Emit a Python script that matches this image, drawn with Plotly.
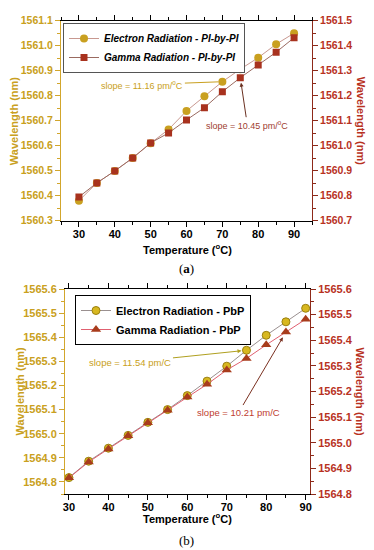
import plotly.graph_objects as go

# ---------------- data ----------------
temperature = [30, 35, 40, 45, 50, 55, 60, 65, 70, 75, 80, 85, 90]

a_electron = [1560.380, 1560.451, 1560.499, 1560.551, 1560.610, 1560.665, 1560.739,
              1560.798, 1560.856, 1560.906, 1560.952, 1561.006, 1561.050]
a_gamma = [1560.795, 1560.851, 1560.899, 1560.951, 1561.011, 1561.051, 1561.103,
           1561.152, 1561.216, 1561.272, 1561.323, 1561.374, 1561.432]

b_electron = [1564.818, 1564.886, 1564.940, 1564.993, 1565.047, 1565.100, 1565.158,
              1565.218, 1565.280, 1565.346, 1565.408, 1565.464, 1565.520]
b_gamma = [1564.863, 1564.925, 1564.976, 1565.027, 1565.078, 1565.127, 1565.179,
           1565.228, 1565.284, 1565.329, 1565.382, 1565.432, 1565.482]

a_names = ["Electron Radiation - PI-by-PI", "Gamma Radiation - PI-by-PI"]
b_names = ["Electron Radiation - PbP", "Gamma Radiation - PbP"]
slope_labels = ["slope = 11.16 pm/<sup>o</sup>C", "slope = 10.45 pm/<sup>o</sup>C",
                "slope = 11.54 pm/C", "slope = 10.21 pm/C"]

# ---------------- style ----------------
W, H = 374, 550
FONT = "Liberation Sans, Arial, sans-serif"
GOLD = "#C9A020"
GOLD_AX = "#D2A62C"
RED = "#A8321E"
RED_AX = "#8E2A1A"
RED_TXT = "#B8321F"

def px_x(p):
    return p / W

def px_y(p):
    return 1 - p / H

fig = go.Figure()

# panel (a)
fig.add_trace(go.Scatter(
    x=temperature, y=a_electron, name=a_names[0], mode="lines+markers",
    line=dict(color="#C89890", width=1),
    marker=dict(symbol="circle", size=8, color=GOLD),
    xaxis="x", yaxis="y", legend="legend"))
fig.add_trace(go.Scatter(
    x=temperature, y=a_gamma, name=a_names[1], mode="lines+markers",
    line=dict(color="#9A6A60", width=1),
    marker=dict(symbol="square", size=7, color=RED),
    xaxis="x", yaxis="y2", legend="legend"))

# panel (b)
fig.add_trace(go.Scatter(
    x=temperature, y=b_electron, name=b_names[0], mode="lines+markers",
    line=dict(color="#9A9090", width=1),
    marker=dict(symbol="circle", size=8, color="#D8B820",
                line=dict(color="#9A8010", width=1)),
    xaxis="x2", yaxis="y3", legend="legend2"))
fig.add_trace(go.Scatter(
    x=temperature, y=b_gamma, name=b_names[1], mode="lines+markers",
    line=dict(color="#E06070", width=1),
    marker=dict(symbol="triangle-up", size=9, color="#A83C1C"),
    xaxis="x2", yaxis="y4", legend="legend2"))

tickfont_x = dict(family=FONT, size=11, color="black", weight="bold")

def xaxis(domain, rng, anchor):
    return dict(domain=domain, range=rng, anchor=anchor, tickmode="linear", tick0=30, dtick=10,
                ticks="outside", ticklen=5, tickcolor="black", showline=True,
                linecolor="black", linewidth=1, mirror="ticks", showgrid=False, zeroline=False,
                tickfont=tickfont_x, ticklabelstandoff=-2,
                minor=dict(dtick=5, tick0=25, ticks="outside", ticklen=3, tickcolor="black"),
                automargin=False)

def yaxis(domain, rng, side, color_line, color_txt, anchor, overlaying=None, size=10.5):
    d = dict(domain=domain, range=rng, side=side, anchor=anchor, dtick=0.1, tickformat=".1f",
             ticks="outside", ticklen=5, tickcolor=color_line, showline=True,
             linecolor=color_line, linewidth=1, showgrid=False, zeroline=False,
             tickfont=dict(family=FONT, size=size, color=color_txt, weight="bold"),
             minor=dict(dtick=0.05, ticks="outside", ticklen=3, tickcolor=color_line),
             automargin=False)
    if overlaying:
        d["overlaying"] = overlaying
    return d

xa_dom = [px_x(61), px_x(312)]
ya_dom = [px_y(220.7), px_y(20.7)]
xb_dom = [px_x(65), px_x(310)]
yb_dom = [px_y(494), px_y(289)]

fig.update_layout(
    width=W, height=H, margin=dict(l=0, r=0, t=0, b=0),
    paper_bgcolor="white", plot_bgcolor="white",
    font=dict(family=FONT),
    xaxis=xaxis(xa_dom, [25, 95], "y"),
    yaxis=yaxis(ya_dom, [1560.3, 1561.1], "left", GOLD_AX, GOLD, "x"),
    yaxis2=yaxis(ya_dom, [1560.7, 1561.5], "right", RED_AX, RED_TXT, "x", overlaying="y"),
    xaxis2=xaxis(xb_dom, [29, 91.1], "y3"),
    yaxis3=yaxis(yb_dom, [1564.75, 1565.6], "left", GOLD_AX, GOLD, "x2", size=11),
    yaxis4=yaxis(yb_dom, [1564.8, 1565.6], "right", RED_AX, RED_TXT, "x2", overlaying="y3", size=11),
    legend=dict(x=px_x(63), y=px_y(23), xanchor="left", yanchor="top",
                bgcolor="white", bordercolor="#555555", borderwidth=1,
                font=dict(family=FONT, size=10, color="black", weight="bold", style="italic"),
                tracegroupgap=0, itemwidth=30),
    legend2=dict(x=px_x(75), y=px_y(295), xanchor="left", yanchor="top",
                 bgcolor="white", bordercolor="black", borderwidth=1,
                 font=dict(family=FONT, size=11, color="black", weight="bold"),
                 tracegroupgap=0, itemwidth=30),
    showlegend=True,
)

ann = []
# y axis titles
for (xc, yc, col, ang) in [(13.5, 120.7, GOLD, -90), (361, 120.7, RED_TXT, 90),
                           (19, 391.5, GOLD, -90), (360, 391.5, RED_TXT, 90)]:
    ann.append(dict(text="Wavelength (nm)", xref="paper", yref="paper",
                    x=px_x(xc), y=px_y(yc), xanchor="center", yanchor="middle",
                    showarrow=False, textangle=ang,
                    font=dict(family=FONT, size=11, color=col, weight="bold")))
# x axis titles
for yc in (249, 518):
    ann.append(dict(text="Temperature (<sup>o</sup>C)", xref="paper", yref="paper",
                    x=px_x(187), y=px_y(yc), xanchor="center", yanchor="middle",
                    showarrow=False,
                    font=dict(family=FONT, size=11, color="black", weight="bold")))
# panel labels
ann.append(dict(text="(<b>a</b>)", xref="paper", yref="paper", x=px_x(186), y=px_y(269),
                xanchor="center", yanchor="middle", showarrow=False,
                font=dict(family="Liberation Serif, serif", size=13, color="black")))
ann.append(dict(text="(b)", xref="paper", yref="paper", x=px_x(186), y=px_y(540),
                xanchor="center", yanchor="middle", showarrow=False,
                font=dict(family="Liberation Serif, serif", size=13, color="black")))
# slope annotations
ann.append(dict(text=slope_labels[0], x=temperature[8], y=a_electron[8], xref="x", yref="y",
                ax=-80, ay=3, showarrow=True, arrowhead=0, arrowwidth=1, arrowcolor=GOLD,
                standoff=4, font=dict(family=FONT, size=9, color=GOLD)))
ann.append(dict(text=slope_labels[1], x=temperature[9], y=a_gamma[9], xref="x", yref="y2",
                ax=7, ay=47, showarrow=True, arrowhead=2, arrowsize=0.8, arrowwidth=1,
                arrowcolor="#6A3020", standoff=5,
                font=dict(family=FONT, size=9, color="#A04030")))
ann.append(dict(text=slope_labels[2], x=temperature[9], y=b_electron[9], xref="x2", yref="y3",
                ax=-116, ay=12, showarrow=True, arrowhead=2, arrowsize=0.8, arrowwidth=1,
                arrowcolor="#B0A020", standoff=5,
                font=dict(family=FONT, size=9.5, color=GOLD)))
ann.append(dict(text=slope_labels[3], x=temperature[11], y=b_gamma[11], xref="x2", yref="y4",
                ax=-47, ay=80, showarrow=True, arrowhead=2, arrowsize=0.8, arrowwidth=1,
                arrowcolor="#7A3020", standoff=6,
                font=dict(family=FONT, size=9.5, color="#C04030")))
fig.update_layout(annotations=ann)

fig.write_html("out.html", config={"displayModeBar": False},
               post_script="document.body.style.margin='0';document.body.style.padding='0';")
